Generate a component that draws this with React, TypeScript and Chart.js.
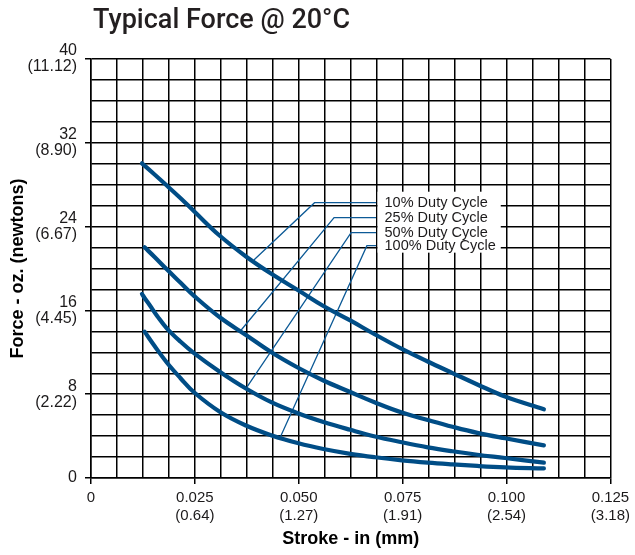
import React, { useEffect, useRef } from 'react';
import { Chart, registerables } from 'chart.js';

Chart.register(...registerables);

// ---------- text ----------
const titleText = 'Typical Force @ 20°C';
const xAxisTitle = 'Stroke - in (mm)';
const yAxisTitle = 'Force - oz. (newtons)';

// ---------- tick labels ----------
const xTickIn = ['0', '0.025', '0.050', '0.075', '0.100', '0.125'];
const xTickMm = ['', '(0.64)', '(1.27)', '(1.91)', '(2.54)', '(3.18)'];
const yTickOz = ['0', '8', '16', '24', '32', '40'];
const yTickN = ['', '(2.22)', '(4.45)', '(6.67)', '(8.90)', '(11.12)'];

// ---------- series (stroke in inches, force in oz) ----------
const stroke10 = [0.01226, 0.0153, 0.01824, 0.0215, 0.02486, 0.03107, 0.03729, 0.0435, 0.04995, 0.05593, 0.06238, 0.06836, 0.07481, 0.08103, 0.087, 0.09297, 0.09966, 0.10899];
const force10 = [30.04, 28.97, 27.92, 26.73, 25.44, 23.1, 21.15, 19.47, 17.9, 16.42, 15.04, 13.7, 12.32, 11.12, 10.02, 8.93, 7.78, 6.56];

const stroke25 = [0.0129, 0.0153, 0.01824, 0.0215, 0.02486, 0.03107, 0.03729, 0.0435, 0.04995, 0.05593, 0.06238, 0.06836, 0.07481, 0.08103, 0.087, 0.09297, 0.09966, 0.10899];
const force25 = [22.02, 21.1, 19.92, 18.66, 17.37, 15.32, 13.65, 11.98, 10.5, 9.31, 8.21, 7.21, 6.25, 5.54, 4.89, 4.31, 3.79, 3.12];

const stroke50 = [0.01226, 0.01315, 0.0141, 0.01601, 0.01824, 0.0215, 0.02486, 0.03107, 0.03729, 0.0435, 0.04995, 0.05593, 0.06238, 0.06836, 0.07481, 0.08103, 0.087, 0.09297, 0.09966, 0.10899];
const force50 = [17.57, 17.04, 16.52, 15.42, 14.29, 13.03, 11.9, 10.12, 8.54, 7.21, 6.16, 5.35, 4.6, 3.96, 3.41, 2.93, 2.55, 2.22, 1.91, 1.46];

const stroke100 = [0.0129, 0.0153, 0.01824, 0.0215, 0.02486, 0.03107, 0.03729, 0.0435, 0.04995, 0.05593, 0.06238, 0.06836, 0.07481, 0.08103, 0.087, 0.09297, 0.09966, 0.10899];
const force100 = [13.97, 12.6, 11.03, 9.55, 8.16, 6.3, 5.01, 4.06, 3.31, 2.77, 2.31, 1.98, 1.69, 1.47, 1.3, 1.15, 1.02, 0.91];

// ---------- callout labels & leader lines ----------
const dutyLabels = ['10% Duty Cycle', '25% Duty Cycle', '50% Duty Cycle', '100% Duty Cycle'];
const leaderCurveStroke = [0.0392, 0.036, 0.0376, 0.0456];
const leaderCurveForce = [20.81, 14.06, 8.72, 3.94];
const leaderBendStroke = [0.0538, 0.0585, 0.0626, 0.0664];
const leaderLevelForce = [26.28, 24.85, 23.42, 22.18];
const leaderEndStroke = 0.0686;

const curveStrokes = [stroke10, stroke25, stroke50, stroke100];
const curveForces = [force10, force25, force50, force100];

const CURVE_COLOR = '#004d86';
const LEADER_COLOR = '#0d5a96';
const TEXT_COLOR = '#1c1a1b';
const SANS = '"Liberation Sans", Arial, Helvetica, sans-serif';

const calloutPlugin = {
  id: 'callouts',
  beforeDatasetsDraw(chart: any) {
    const { ctx, scales } = chart;
    const x = scales.x;
    const y = scales.y;
    ctx.save();
    ctx.font = '14.5px ' + SANS;
    const left = x.getPixelForValue(leaderEndStroke) + 1.5;
    const textX = left + 7;
    let maxW = 0;
    dutyLabels.forEach((t) => { maxW = Math.max(maxW, ctx.measureText(t).width); });
    const top = y.getPixelForValue(leaderLevelForce[0]) - 11;
    const bottom = y.getPixelForValue(leaderLevelForce[leaderLevelForce.length - 1]) + 7;
    ctx.fillStyle = '#ffffff';
    ctx.fillRect(left, top, textX + maxW + 5 - left, bottom - top);
    ctx.fillStyle = TEXT_COLOR;
    ctx.textAlign = 'left';
    ctx.textBaseline = 'middle';
    dutyLabels.forEach((t, i) => {
      ctx.fillText(t, textX, y.getPixelForValue(leaderLevelForce[i]) + 0.5);
    });
    ctx.restore();
  },
  afterDraw(chart: any) {
    const { ctx } = chart;
    ctx.save();
    ctx.font = '500 27px Roboto, "Noto Sans", sans-serif';
    ctx.fillStyle = '#231f20';
    ctx.textAlign = 'left';
    ctx.textBaseline = 'alphabetic';
    ctx.fillText(titleText, 93, 28);
    ctx.restore();
  },
};

export default function App() {
  const canvasRef = useRef<HTMLCanvasElement | null>(null);

  useEffect(() => {
    const canvas = canvasRef.current;
    if (!canvas) return;

    const curveDatasets = curveStrokes.map((xs, k) => ({
      label: dutyLabels[k],
      data: xs.map((v, i) => ({ x: v, y: curveForces[k][i] })),
      borderColor: CURVE_COLOR,
      borderWidth: 4.2,
      borderCapStyle: 'round',
      borderJoinStyle: 'round',
      tension: 0.4,
      pointRadius: 0,
      fill: false,
      order: 0,
    }));

    const leaderDatasets = dutyLabels.map((lab, k) => ({
      label: lab + ' leader',
      data: [
        { x: leaderCurveStroke[k], y: leaderCurveForce[k] },
        { x: leaderBendStroke[k], y: leaderLevelForce[k] },
        { x: leaderEndStroke, y: leaderLevelForce[k] },
      ],
      borderColor: LEADER_COLOR,
      borderWidth: 1.3,
      tension: 0,
      pointRadius: 0,
      fill: false,
      order: 1,
    }));

    const chart = new Chart(canvas, {
      type: 'line',
      data: { datasets: [...curveDatasets, ...leaderDatasets] as any },
      plugins: [calloutPlugin],
      options: {
        responsive: false,
        animation: false,
        events: [],
        layout: { padding: { left: 0, top: 59, right: 21, bottom: 0 } },
        plugins: {
          legend: { display: false },
          tooltip: { enabled: false },
          title: { display: false },
        },
        scales: {
          x: {
            type: 'linear',
            min: 0,
            max: 0.125,
            afterBuildTicks: (s: any) => {
              s.ticks = Array.from({ length: 21 }, (_, i) => ({ value: (0.125 * i) / 20 }));
            },
            afterFit: (s: any) => { s.height = 77; },
            ticks: {
              autoSkip: false,
              maxRotation: 0,
              minRotation: 0,
              padding: 5,
              color: TEXT_COLOR,
              font: { family: SANS, size: 15, lineHeight: 1.2 },
              callback: (_v: any, i: number) => {
                if (i % 4 !== 0) return '';
                const j = i / 4;
                return xTickMm[j] ? [xTickIn[j], xTickMm[j]] : xTickIn[j];
              },
            },
            grid: {
              color: '#000',
              lineWidth: 1.5,
              tickLength: 6,
              tickWidth: 1.5,
              tickColor: (c: any) => (c.index % 4 === 0 ? '#000' : 'rgba(0,0,0,0)'),
            },
            border: { color: '#000', width: 1.5 },
            title: {
              display: true,
              text: xAxisTitle,
              color: '#000',
              font: { family: SANS, size: 18, weight: 'bold', lineHeight: 1.2 },
              padding: { top: 0, bottom: 5 },
            },
          },
          y: {
            type: 'linear',
            min: 0,
            max: 40,
            afterBuildTicks: (s: any) => {
              s.ticks = Array.from({ length: 21 }, (_, i) => ({ value: i * 2 }));
            },
            afterFit: (s: any) => { s.width = 91; },
            ticks: {
              autoSkip: false,
              padding: 8,
              color: TEXT_COLOR,
              font: { family: SANS, size: 16, lineHeight: 1.0 },
              callback: (_v: any, i: number) => {
                if (i % 4 !== 0) return '';
                const j = i / 4;
                return yTickN[j] ? [yTickOz[j], yTickN[j]] : yTickOz[j];
              },
            },
            grid: {
              color: '#000',
              lineWidth: 1.5,
              tickLength: 6,
              tickWidth: 1.5,
              tickColor: (c: any) => (c.index % 4 === 0 ? '#000' : 'rgba(0,0,0,0)'),
            },
            border: { color: '#000', width: 1.5 },
            title: {
              display: true,
              text: yAxisTitle,
              color: '#000',
              font: { family: SANS, size: 18, weight: 'bold', lineHeight: 1.2 },
              padding: { top: 7, bottom: 0 },
            },
          },
        },
      } as any,
    });

    return () => chart.destroy();
  }, []);

  return (
    <div style={{ position: 'fixed', left: 0, top: 0, width: 635, height: 555, background: '#fff' }}>
      <canvas ref={canvasRef} width={635} height={555} style={{ display: 'block', width: 635, height: 555 }} />
    </div>
  );
}
